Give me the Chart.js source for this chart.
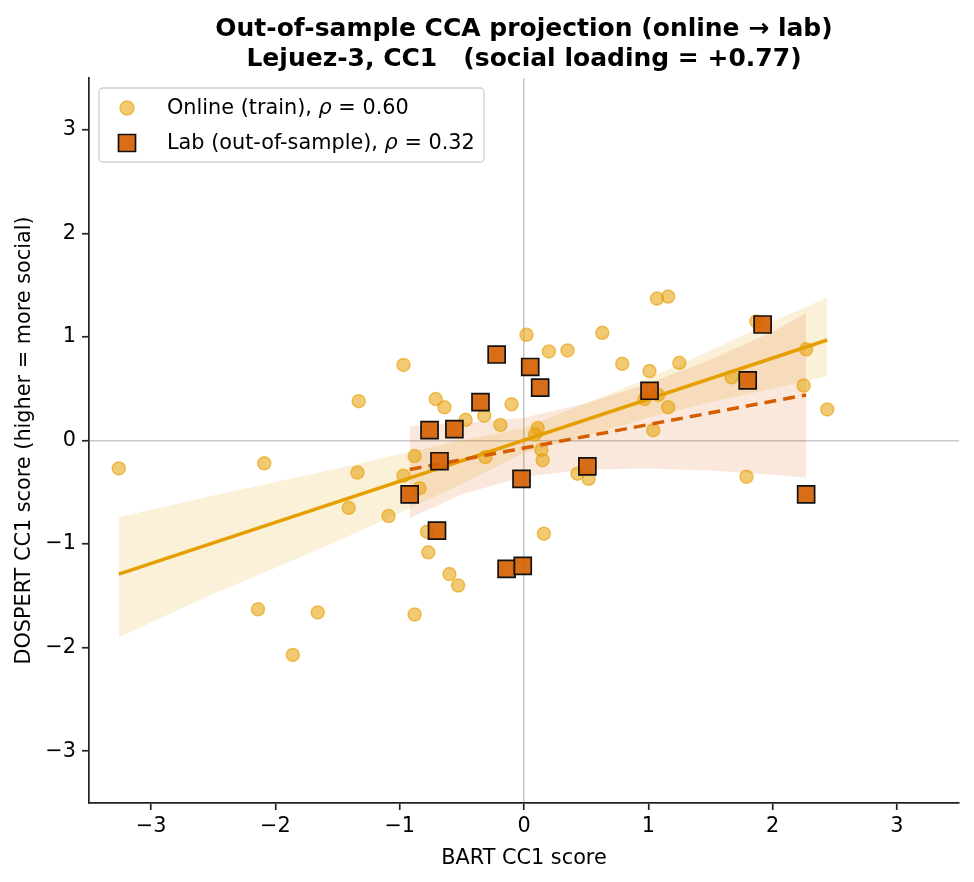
<!DOCTYPE html>
<html>
<head>
<meta charset="utf-8">
<script src="https://cdn.jsdelivr.net/npm/chart.js@4.4.1/dist/chart.umd.min.js"></script>
<style>
  html, body { margin: 0; padding: 0; background: #fff; }
</style>
</head>
<body>
<canvas id="cca" width="974" height="882"></canvas>
<script>
// online (train) scores
var onlineX = [-3.26, -2.09, -1.33, -1.34, -1.41, -1.09, -0.97, -0.97, -0.88, -0.84,
  -0.78, -0.77, -0.60, -0.53, -2.14, -1.66, -0.88, -1.86, -0.71, -0.64,
  -0.47, -0.32, -0.19, -0.10, -0.31, 0.02, 1.07, 1.16, 0.63, 0.20,
  0.35, 0.79, 1.01, 1.25, 0.97, 1.08, 1.16, 1.04, 1.67, 1.87,
  2.27, 2.25, 2.44, 0.11, 0.09, 0.14, 0.15, 0.43, 0.52, 1.79, 0.16];
var onlineY = [-0.27, -0.22, 0.38, -0.31, -0.65, -0.73, 0.73, -0.34, -0.15, -0.46,
  -0.88, -1.08, -1.29, -1.40, -1.63, -1.66, -1.68, -2.07, 0.40, 0.32,
  0.20, 0.24, 0.15, 0.35, -0.16, 1.02, 1.37, 1.39, 1.04, 0.86,
  0.87, 0.74, 0.67, 0.75, 0.40, 0.44, 0.32, 0.10, 0.61, 1.15,
  0.88, 0.53, 0.30, 0.12, 0.06, -0.09, -0.19, -0.32, -0.37, -0.35, -0.90];

// lab (out-of-sample) scores
var labX = [-0.22, 0.05, 0.13, -0.35, -0.76, -0.56, -0.68, -0.92, -0.70,
  -0.14, -0.01, -0.02, 0.51, 1.01, 1.80, 1.92, 2.27];
var labY = [0.83, 0.71, 0.51, 0.37, 0.10, 0.11, -0.20, -0.52, -0.87,
  -1.24, -1.21, -0.37, -0.25, 0.48, 0.58, 1.12, -0.52];

// fitted lines
var onlineFitX = [-3.26, 2.44];
var onlineFitY = [-1.29, 0.97];
var labFitX = [-0.92, 2.27];
var labFitY = [-0.28, 0.44];

// confidence bands
var onlineBandX = [-3.26, -2.5, -2.0, -1.5, -1.0, -0.5, 0.0, 0.5, 1.0, 1.5, 2.0, 2.44];
var onlineLow   = [-1.90, -1.48, -1.23, -0.97, -0.70, -0.42, -0.12, 0.04, 0.22, 0.37, 0.50, 0.62];
var onlineHigh  = [-0.74, -0.53, -0.40, -0.27, -0.13, 0.00, 0.12, 0.36, 0.60, 0.87, 1.15, 1.38];
var labBandX = [-0.92, -0.5, 0.0, 0.5, 1.0, 1.5, 2.0, 2.27];
var labLow   = [-0.75, -0.52, -0.35, -0.28, -0.27, -0.29, -0.33, -0.36];
var labHigh  = [0.14, 0.17, 0.22, 0.36, 0.55, 0.78, 1.05, 1.23];

var xTicks = [-3, -2, -1, 0, 1, 2, 3];
var yTicks = [-3, -2, -1, 0, 1, 2, 3];

var FONT = 'DejaVu Sans';
var ORANGE = '#E69F00';
var RUST = '#D55E00';

function pts(xs, ys) {
  return xs.map(function(x, i) { return { x: x, y: ys[i] }; });
}
function fmt(v) {
  return v < 0 ? '\u2212' + Math.abs(v) : String(v);
}
function zeroLine(ctx) {
  return ctx.tick && ctx.tick.value === 0 ? '#c8c8c8' : 'rgba(0,0,0,0)';
}

// legend drawn inside the plot, matplotlib style
var boxLegend = {
  id: 'boxLegend',
  afterDraw: function(chart) {
    var c = chart.ctx;
    var a = chart.chartArea;
    var x0 = a.left + 10, y0 = a.top + 10, w = 385, h = 74;
    c.save();
    c.beginPath();
    c.roundRect(x0, y0, w, h, 4);
    c.fillStyle = 'rgba(255,255,255,0.85)';
    c.fill();
    c.strokeStyle = '#d0d0d0';
    c.lineWidth = 1.3;
    c.stroke();

    // circle marker
    c.beginPath();
    c.arc(x0 + 28, y0 + 20, 7, 0, Math.PI * 2);
    c.fillStyle = 'rgba(230,159,0,0.55)';
    c.fill();
    c.strokeStyle = 'rgba(230,159,0,0.6)';
    c.lineWidth = 1.5;
    c.stroke();
    // square marker
    c.beginPath();
    c.rect(x0 + 28 - 8.5, y0 + 55 - 8.5, 17, 17);
    c.fillStyle = 'rgba(213,94,0,0.9)';
    c.fill();
    c.strokeStyle = '#111';
    c.lineWidth = 1.7;
    c.stroke();

    var rows = [['Online (train), ', ' = 0.60'], ['Lab (out-of-sample), ', ' = 0.32']];
    c.fillStyle = '#000';
    c.textBaseline = 'middle';
    rows.forEach(function(r, i) {
      var ty = y0 + 21 + i * 35;
      var tx = x0 + 68;
      c.font = '20.8px "' + FONT + '"';
      c.fillText(r[0], tx, ty);
      tx += c.measureText(r[0]).width;
      c.font = 'italic 20.8px "' + FONT + '"';
      c.fillText('\u03c1', tx, ty);
      tx += c.measureText('\u03c1').width;
      c.font = '20.8px "' + FONT + '"';
      c.fillText(r[1], tx, ty);
    });
    c.restore();
  }
};

var config = {
  type: 'scatter',
  data: {
    datasets: [
      {
        type: 'line', data: pts(onlineBandX, onlineHigh), order: 10,
        borderWidth: 0, pointRadius: 0, fill: '+1',
        backgroundColor: 'rgba(230,159,0,0.15)'
      },
      {
        type: 'line', data: pts(onlineBandX, onlineLow), order: 10,
        borderWidth: 0, pointRadius: 0, fill: false
      },
      {
        type: 'line', data: pts(labBandX, labHigh), order: 9,
        borderWidth: 0, pointRadius: 0, fill: '+1',
        backgroundColor: 'rgba(213,94,0,0.14)'
      },
      {
        type: 'line', data: pts(labBandX, labLow), order: 9,
        borderWidth: 0, pointRadius: 0, fill: false
      },
      {
        label: 'Online (train)',
        data: pts(onlineX, onlineY), order: 5,
        pointRadius: 6.5, pointStyle: 'circle',
        backgroundColor: 'rgba(230,159,0,0.55)',
        borderColor: 'rgba(230,159,0,0.6)', borderWidth: 1.5
      },
      {
        type: 'line', data: pts(onlineFitX, onlineFitY), order: 3,
        borderColor: ORANGE, borderWidth: 3.5, pointRadius: 0, fill: false
      },
      {
        type: 'line', data: pts(labFitX, labFitY), order: 2,
        borderColor: RUST, borderWidth: 3.5, borderDash: [12, 7],
        pointRadius: 0, fill: false
      },
      {
        label: 'Lab (out-of-sample)',
        data: pts(labX, labY), order: 0,
        pointRadius: 12, pointStyle: 'rect',
        backgroundColor: 'rgba(213,94,0,0.9)',
        borderColor: '#111', borderWidth: 1.7
      }
    ]
  },
  options: {
    responsive: false,
    animation: false,
    devicePixelRatio: 1,
    layout: { padding: { top: 0, right: 15, left: 0, bottom: 0 } },
    plugins: {
      legend: { display: false },
      tooltip: { enabled: false },
      title: {
        display: true,
        fullSize: false,
        text: ['Out-of-sample CCA projection (online \u2192 lab)',
               'Lejuez-3, CC1   (social loading = +0.77)'],
        color: '#000',
        font: { family: FONT, size: 25, weight: 'bold', lineHeight: 1.2 },
        padding: { top: 14, bottom: 4 }
      }
    },
    scales: {
      x: {
        type: 'linear', position: 'bottom', min: -3.5, max: 3.5,
        afterBuildTicks: function(s) { s.ticks = xTicks.map(function(v) { return { value: v }; }); },
        afterFit: function(s) { s.height = 79; },
        grid: { color: zeroLine, lineWidth: 1.5, tickLength: 7, tickColor: '#222', tickWidth: 1.7 },
        border: { display: true, color: '#222', width: 1.7 },
        ticks: { color: '#000', font: { family: FONT, size: 20.8 }, padding: 4, callback: fmt },
        title: {
          display: true, text: 'BART CC1 score', color: '#000',
          font: { family: FONT, size: 20.8 }, padding: { top: 2, bottom: 11 }
        }
      },
      y: {
        type: 'linear', position: 'left', min: -3.5, max: 3.5,
        afterBuildTicks: function(s) { s.ticks = yTicks.map(function(v) { return { value: v }; }); },
        afterFit: function(s) { s.width = 89; },
        grid: { color: zeroLine, lineWidth: 1.5, tickLength: 7, tickColor: '#222', tickWidth: 1.7 },
        border: { display: true, color: '#222', width: 1.7 },
        ticks: { color: '#000', font: { family: FONT, size: 20.8 }, padding: 6, callback: fmt },
        title: {
          display: true, text: 'DOSPERT CC1 score (higher = more social)', color: '#000',
          font: { family: FONT, size: 20.8 }, padding: { top: 12, bottom: 4 }
        }
      }
    }
  },
  plugins: [boxLegend]
};

window.onload = function() {
  var ctx = document.getElementById('cca').getContext('2d');
  window.ccaChart = new Chart(ctx, config);
};
</script>
</body>
</html>
